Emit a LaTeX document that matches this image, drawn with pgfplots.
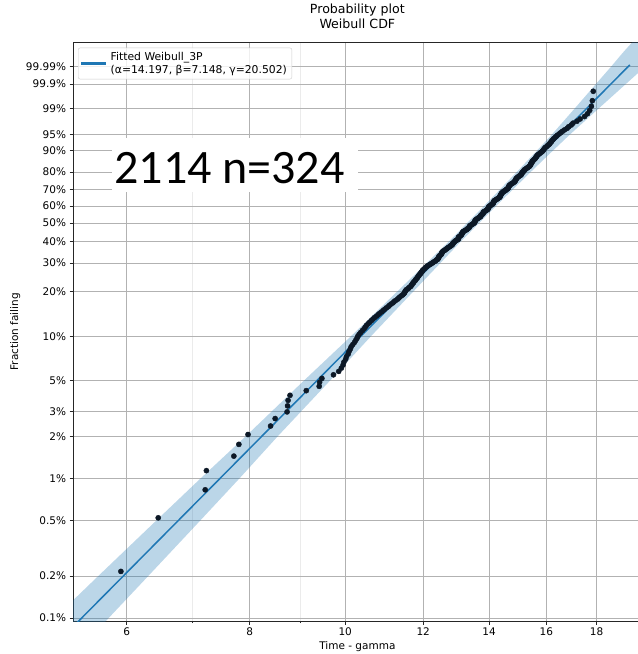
\documentclass[border=0pt]{standalone}
\usepackage{fontspec}
\setmainfont{DejaVu Sans}
\newfontfamily\carlito{Carlito}
\usepackage{xfp}
\usepackage{pgfplots}
\pgfplotsset{compat=1.18}
\usepackage{pgfplotstable}
\definecolor{c0}{HTML}{1F77B4}
\definecolor{pt}{RGB}{12,24,38}

\makeatletter
\def\wbtrafo#1{%
  \pgfutil@in@{Y}{#1}%
  \ifpgfutil@in@
    \pgfmathfloattosci{#1}\let\wb@v\pgfmathresult
  \else
    \edef\wb@v{#1}%
  \fi
  \edef\pgfmathresult{\fpeval{ln(-ln(1-(\wb@v)))}}%
}
\makeatother

\pgfplotstableread{
x F
5.92 0.00216
6.46 0.00524
7.21 0.00832
7.23 0.01141
7.71 0.01449
7.80 0.01757
7.97 0.02065
8.40 0.02374
8.49 0.02682
8.73 0.02990
8.74 0.03298
8.75 0.03607
8.79 0.03915
9.13 0.04223
9.41 0.04531
9.42 0.04840
9.47 0.05148
9.73 0.05456
9.85 0.05764
9.91 0.06073
9.95 0.06381
9.97 0.06689
10.01 0.06998
10.03 0.07306
10.07 0.07614
10.09 0.07922
10.12 0.08231
10.14 0.08539
10.18 0.08847
10.22 0.09155
10.25 0.09464
10.28 0.09772
10.30 0.10080
10.33 0.10388
10.37 0.10697
10.41 0.11005
10.45 0.11313
10.48 0.11621
10.51 0.11930
10.55 0.12238
10.59 0.12546
10.63 0.12854
10.67 0.13163
10.71 0.13471
10.76 0.13779
10.80 0.14088
10.84 0.14396
10.89 0.14704
10.93 0.15012
10.97 0.15321
11.01 0.15629
11.06 0.15937
11.09 0.16245
11.13 0.16554
11.18 0.16862
11.21 0.17170
11.25 0.17478
11.30 0.17787
11.33 0.18095
11.36 0.18403
11.40 0.18711
11.44 0.19020
11.47 0.19328
11.49 0.19636
11.50 0.19944
11.52 0.20253
11.54 0.20561
11.59 0.20869
11.61 0.21178
11.65 0.21486
11.67 0.21794
11.69 0.22102
11.70 0.22411
11.73 0.22719
11.74 0.23027
11.77 0.23335
11.79 0.23644
11.80 0.23952
11.83 0.24260
11.84 0.24568
11.86 0.24877
11.88 0.25185
11.89 0.25493
11.92 0.25801
11.93 0.26110
11.95 0.26418
11.97 0.26726
11.98 0.27034
12.00 0.27343
12.03 0.27651
12.05 0.27959
12.07 0.28268
12.10 0.28576
12.13 0.28884
12.16 0.29192
12.20 0.29501
12.23 0.29809
12.27 0.30117
12.29 0.30425
12.33 0.30734
12.36 0.31042
12.38 0.31350
12.42 0.31658
12.42 0.31967
12.44 0.32275
12.45 0.32583
12.45 0.32891
12.47 0.33200
12.50 0.33508
12.52 0.33816
12.52 0.34124
12.54 0.34433
12.54 0.34741
12.56 0.35049
12.58 0.35358
12.62 0.35666
12.64 0.35974
12.67 0.36282
12.69 0.36591
12.72 0.36899
12.74 0.37207
12.78 0.37515
12.79 0.37824
12.83 0.38132
12.85 0.38440
12.85 0.38748
12.87 0.39057
12.88 0.39365
12.90 0.39673
12.92 0.39981
12.94 0.40290
12.97 0.40598
13.01 0.40906
13.03 0.41215
13.03 0.41523
13.03 0.41831
13.03 0.42139
13.05 0.42448
13.08 0.42756
13.10 0.43064
13.12 0.43372
13.12 0.43681
13.14 0.43989
13.14 0.44297
13.16 0.44605
13.16 0.44914
13.18 0.45222
13.21 0.45530
13.24 0.45838
13.28 0.46147
13.29 0.46455
13.31 0.46763
13.34 0.47071
13.36 0.47380
13.36 0.47688
13.38 0.47996
13.38 0.48305
13.40 0.48613
13.43 0.48921
13.46 0.49229
13.48 0.49538
13.51 0.49846
13.53 0.50154
13.53 0.50462
13.53 0.50771
13.55 0.51079
13.55 0.51387
13.56 0.51695
13.58 0.52004
13.61 0.52312
13.63 0.52620
13.65 0.52928
13.68 0.53237
13.71 0.53545
13.73 0.53853
13.73 0.54161
13.73 0.54470
13.75 0.54778
13.78 0.55086
13.80 0.55395
13.80 0.55703
13.81 0.56011
13.81 0.56319
13.83 0.56628
13.86 0.56936
13.90 0.57244
13.91 0.57552
13.94 0.57861
13.96 0.58169
13.96 0.58477
13.98 0.58785
13.98 0.59094
13.99 0.59402
13.99 0.59710
14.01 0.60018
14.04 0.60327
14.06 0.60635
14.08 0.60943
14.11 0.61251
14.13 0.61560
14.13 0.61868
14.14 0.62176
14.14 0.62485
14.16 0.62793
14.16 0.63101
14.18 0.63409
14.21 0.63718
14.24 0.64026
14.26 0.64334
14.29 0.64642
14.31 0.64951
14.34 0.65259
14.36 0.65567
14.36 0.65875
14.36 0.66184
14.38 0.66492
14.39 0.66800
14.39 0.67108
14.41 0.67417
14.41 0.67725
14.43 0.68033
14.45 0.68341
14.46 0.68650
14.50 0.68958
14.51 0.69266
14.55 0.69575
14.57 0.69883
14.58 0.70191
14.62 0.70499
14.63 0.70808
14.64 0.71116
14.65 0.71424
14.65 0.71732
14.67 0.72041
14.67 0.72349
14.69 0.72657
14.71 0.72965
14.74 0.73274
14.76 0.73582
14.80 0.73890
14.82 0.74198
14.85 0.74507
14.87 0.74815
14.87 0.75123
14.89 0.75431
14.89 0.75740
14.91 0.76048
14.91 0.76356
14.93 0.76665
14.95 0.76973
14.97 0.77281
15.00 0.77589
15.02 0.77898
15.06 0.78206
15.08 0.78514
15.10 0.78822
15.10 0.79131
15.12 0.79439
15.12 0.79747
15.14 0.80055
15.17 0.80364
15.19 0.80672
15.19 0.80980
15.21 0.81288
15.25 0.81597
15.27 0.81905
15.31 0.82213
15.33 0.82521
15.37 0.82830
15.39 0.83138
15.41 0.83446
15.42 0.83755
15.43 0.84063
15.45 0.84371
15.45 0.84679
15.48 0.84988
15.48 0.85296
15.50 0.85604
15.53 0.85912
15.55 0.86221
15.58 0.86529
15.60 0.86837
15.61 0.87145
15.64 0.87454
15.65 0.87762
15.67 0.88070
15.70 0.88378
15.74 0.88687
15.77 0.88995
15.81 0.89303
15.85 0.89611
15.88 0.89920
15.89 0.90228
15.92 0.90536
15.94 0.90845
15.97 0.91153
16.02 0.91461
16.05 0.91769
16.10 0.92078
16.13 0.92386
16.15 0.92694
16.19 0.93002
16.21 0.93311
16.25 0.93619
16.28 0.93927
16.33 0.94235
16.38 0.94544
16.42 0.94852
16.49 0.95160
16.55 0.95468
16.62 0.95777
16.70 0.96085
16.80 0.96393
16.86 0.96701
16.96 0.97010
17.03 0.97318
17.19 0.97626
17.32 0.97935
17.50 0.98243
17.62 0.98551
17.71 0.98859
17.78 0.99168
17.82 0.99476
17.86 0.99784
}\obs

\pgfplotstableread{
x F
4.904 0.0008
5.071 0.001
5.614 0.002
6.429 0.005
7.128 0.01
7.923 0.02
9.089 0.05
10.123 0.1
11.296 0.2
12.744 0.4
13.830 0.6
14.929 0.8
15.659 0.9
16.208 0.95
17.095 0.99
17.964 0.999
18.615 0.9999
19.115 0.99999
19.562 0.999999
21.481 0.999999
20.890 0.99999
20.153 0.9999
19.269 0.999
18.079 0.99
16.906 0.95
16.257 0.9
15.425 0.8
14.223 0.6
13.106 0.4
11.728 0.2
10.609 0.1
9.660 0.05
8.538 0.02
7.808 0.01
7.125 0.005
6.310 0.002
5.754 0.001
5.590 0.0008
}\band

\pgfplotstableread{
x F
5.236 0.0008
19.45 0.999925
}\fit

\begin{document}
\begin{tikzpicture}
\useasboundingbox (0,0) rectangle (638bp,654bp);
\begin{axis}[
  at={(73bp,33bp)}, anchor=south west,
  scale only axis, width=568.7bp, height=578.3bp,
  xmode=log, xmin=5.293, xmax=20,
  y coord trafo/.code={\wbtrafo{#1}},
  ymin=0.000951, ymax=0.9999989,
  xtick={6,8,10,12,14,16,18}, xticklabels={6,8,10,12,14,16,18},
  minor xtick={7,9},
  ytick={0.001,0.002,0.005,0.01,0.02,0.03,0.05,0.1,0.2,0.3,0.4,0.5,0.6,0.7,0.8,0.9,0.95,0.99,0.999,0.9999},
  yticklabels={0.1\%,0.2\%,0.5\%,1\%,2\%,3\%,5\%,10\%,20\%,30\%,40\%,50\%,60\%,70\%,80\%,90\%,95\%,99\%,99.9\%,99.99\%},
  grid=both,
  major grid style={black!30, line width=0.8bp},
  minor grid style={black!8, line width=0.8bp},
  tick align=outside, tick pos=left,
  major tick length=3.5bp, minor tick length=2bp,
  every tick/.style={black!85, line width=0.8bp},
  axis line style={black!85, line width=0.8bp},
  tick label style={font=\fontsize{10.5bp}{12bp}\selectfont},
  title={Probability plot\\Weibull CDF},
  title style={at={(axis description cs:0.5,1)}, anchor=south, yshift=7.7bp, align=center, inner sep=0pt, font=\fontsize{12.6bp}{15bp}\selectfont},
  xlabel={Time - gamma},
  xlabel style={at={(axis description cs:0.5,0)}, anchor=base, yshift=-28bp, inner sep=0pt, font=\fontsize{10.5bp}{12bp}\selectfont},
  ylabel={Fraction failing},
  ylabel style={at={(axis description cs:-0.0967,0.5)}, anchor=base, inner sep=0pt, font=\fontsize{10.5bp}{12bp}\selectfont},
  legend style={at={(0,1)}, anchor=north west, xshift=5bp, yshift=-5bp, draw=black!20, rounded corners=2bp, fill=white, fill opacity=0.8, text opacity=1, font=\fontsize{10.8bp}{13.5bp}\selectfont, inner xsep=3bp, inner ysep=2bp, cells={anchor=west, align=left}, /tikz/every odd column/.append style={column sep=3bp}},
  legend image code/.code={\fill[c0, fill opacity=1, rounded corners=0pt] (0bp,-0.6bp) rectangle (23bp,0.6bp);},
]
\addplot[fill=c0, fill opacity=0.3, draw=none, forget plot] table[x=x, y=F] {\band} -- cycle;
\addplot[only marks, mark=*, mark size=2.6bp, color=pt, mark options={draw=pt, fill=pt}, forget plot] table[x=x, y=F] {\obs};
\addplot[c0, line width=1.5bp] table[x=x, y=F] {\fit};
\addlegendentry{Fitted Weibull\_3P\\(α=14.197, β=7.148, γ=20.502)}
\end{axis}
\fill[white] (111.7bp,462.3bp) rectangle (358.3bp,515.7bp);
\node[anchor=base, inner sep=0pt, font=\carlito\fontsize{48bp}{48bp}\selectfont] at (229.5bp,470.7bp) {2114 n=324};
\end{tikzpicture}
\end{document}
